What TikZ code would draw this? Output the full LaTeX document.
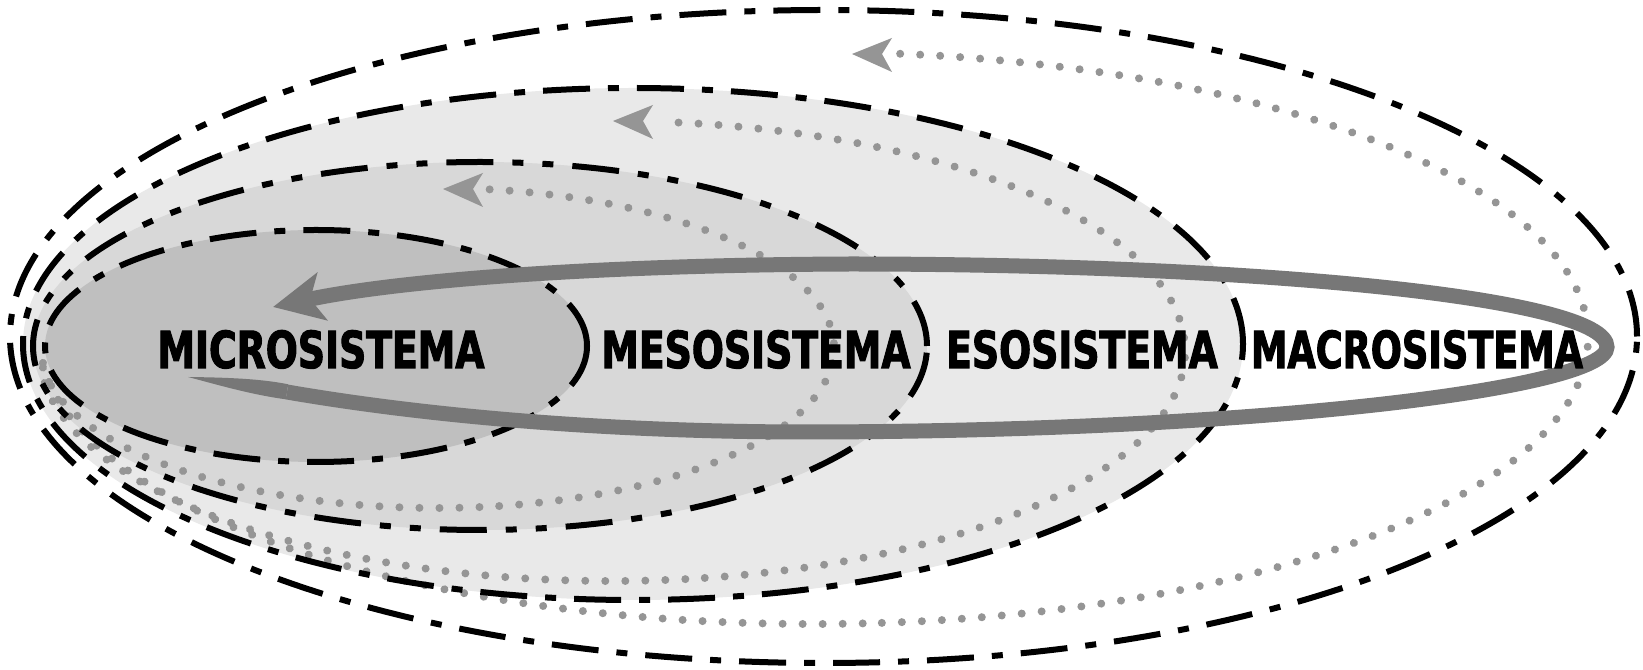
\documentclass[tikz,border=0pt]{standalone}
\usepackage{fontspec}
\newfontfamily\labfont[FakeStretch=0.74,FakeBold=2]{DejaVu Sans Bold}
\usetikzlibrary{shapes.geometric,arrows.meta,calc,decorations.markings}
\definecolor{microfill}{HTML}{BFBFBF}
\definecolor{mesofill}{HTML}{D8D8D8}
\definecolor{esofill}{HTML}{E9E9E9}
\definecolor{dotgray}{HTML}{959595}
\definecolor{bandgray}{HTML}{777777}
\begin{document}
\begin{tikzpicture}[x=1pt,y=1pt,
  zone/.style={ellipse, inner sep=0pt, outer sep=0pt},
  ring/.style={zone, draw=black, line width=6pt, line cap=butt},
  longshort/.style={dash pattern=on 47pt off 18pt on 11pt off 18pt},
  longshortshort/.style={dash pattern=on 47pt off 19pt on 11pt off 19pt on 11pt off 19pt},
  dotarc/.style={decoration={markings, mark=between positions 0 and 1 step 20pt with {\fill[dotgray] (0,0) circle [radius=4pt];}}, postaction={decorate}},
  dothead/.style={draw=none, fill=dotgray},
  band/.style={draw=bandgray, line width=15pt, line cap=butt, -{Stealth[length=50pt,width=48pt,inset=12pt]}},
  syslabel/.style={font=\labfont\fontsize{51}{51}\selectfont, anchor=base, inner sep=0pt}
]
\useasboundingbox (0,0) rectangle (1643,669);
\fill[white] (0,0) rectangle (1643,669);
% fills
\node[zone, minimum width=1627pt, minimum height=653pt] (macro) at (823.5,332.5) {};
\node[zone, fill=esofill, minimum width=1220pt, minimum height=512pt] (eso) at (633,325) {};
\node[zone, fill=mesofill, minimum width=894pt, minimum height=368pt] (meso) at (480,323) {};
\node[zone, fill=microfill, minimum width=542pt, minimum height=232pt] (micro) at (316,323) {};
% dotted arrows
\coordinate (c1) at (437,321);
\coordinate (c2) at (612,318);
\coordinate (c3) at (814,331);
\coordinate (d1s) at ($(c1)+(187:397 and 160)$);
\coordinate (d2s) at ($(c2)+(188:573 and 230)$);
\coordinate (d3s) at ($(c3)+(185:774 and 286)$);
\path[dotarc] (d1s) arc[start angle=187, end angle=443, x radius=397, y radius=160] coordinate (d1e);
\path[dotarc] (d2s) arc[start angle=188, end angle=445, x radius=573, y radius=230] coordinate (d2e);
\path[dotarc] (d3s) arc[start angle=185, end angle=444, x radius=774, y radius=286] coordinate (d3e);
% dotted arrow heads (tip, upper barb, notch, lower barb)
\fill[dothead] (443,480) -- (483,496) -- (473,480) -- (483,462) -- cycle;
\fill[dothead] (613,548) -- (653,564) -- (643,548) -- (653,530) -- cycle;
\fill[dothead] (852,615) -- (892,631) -- (882,615) -- (892,597) -- cycle;
% boundaries
\node[ring, longshort, minimum width=1627pt, minimum height=653pt] (macroring) at (macro.center) {};
\node[ring, longshort, minimum width=1220pt, minimum height=512pt] (esoring) at (eso.center) {};
\node[ring, longshortshort, minimum width=894pt, minimum height=368pt] (mesoring) at (meso.center) {};
\node[ring, longshort, minimum width=542pt, minimum height=232pt] (microring) at (micro.center) {};
% thick band arrow with tapered start
\coordinate (bt0) at (188,292);
\coordinate (bs) at (287,277);
\coordinate (bb) at (800,237);
\coordinate (br) at (1607,322);
\coordinate (bt) at (850,405);
\coordinate (be) at (273,362);
\fill[bandgray] (bt0) .. controls (230,291.5) and (262,290) .. (288.2,284.7)
  -- (285.8,269.7) .. controls (250,274.5) and (215,285) .. cycle;
\draw[band] (bs) .. controls (426,253) and (603,237.5) .. (bb)
  .. controls (1250,237) and (1607,280) .. (br)
  .. controls (1607,372) and (1250,405) .. (bt)
  .. controls (600,404) and (400,389) .. (be);
% labels
\node[syslabel] (microt) at (321,301) {MICROSISTEMA};
\node[syslabel] (mesot) at (756,301) {MESOSISTEMA};
\node[syslabel] (esot) at (1082,301) {ESOSISTEMA};
\node[syslabel, xscale=0.97] (macrot) at (1417,301) {MACROSISTEMA};
\end{tikzpicture}
\end{document}
